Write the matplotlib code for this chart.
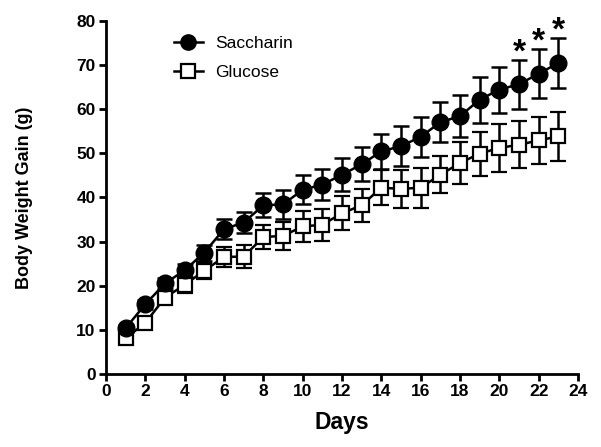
import matplotlib
matplotlib.use("Agg")
import matplotlib.pyplot as plt
from matplotlib.lines import Line2D
import numpy as np

days = list(range(1, 24))
saccharin = [10.4, 15.8, 20.5, 23.5, 27.5, 32.8, 34.3, 38.2, 38.4, 41.7, 42.9, 45.1, 47.5,
             50.4, 51.6, 53.7, 57.0, 58.4, 62.1, 64.4, 65.6, 68.0, 70.4]
saccharin_err = [0.8, 1.0, 1.2, 1.5, 1.8, 2.2, 2.4, 2.7, 3.2, 3.3, 3.6, 3.7, 3.8,
                 4.0, 4.5, 4.5, 4.5, 4.8, 5.2, 5.2, 5.5, 5.6, 5.7]
glucose = [8.1, 11.6, 17.3, 20.2, 23.4, 26.5, 26.6, 31.0, 31.3, 33.4, 33.8, 36.4, 38.2,
           42.2, 41.9, 42.2, 45.1, 47.8, 49.9, 51.2, 51.9, 52.9, 53.8]
glucose_err = [0.8, 1.2, 1.5, 1.8, 2.0, 2.2, 2.5, 2.8, 3.2, 3.4, 3.6, 3.8, 3.7,
               4.0, 4.3, 4.5, 4.2, 4.7, 5.0, 5.4, 5.3, 5.4, 5.5]
sig_days = [21, 22, 23]
xticks = list(range(0, 25, 2))
yticks = list(range(0, 81, 10))

plt.rcParams['font.family'] = ['Liberation Sans', 'DejaVu Sans']

fig = plt.figure(figsize=(6.01, 4.47), dpi=100)
ax = fig.add_axes([0.1764, 0.1633, 0.7853, 0.7904])

lw = 1.8
ax.errorbar(days, glucose, yerr=glucose_err, fmt='s-', color='black', mfc='white',
            mec='black', mew=1.6, ms=10.5, lw=lw, capsize=5.5, capthick=lw, elinewidth=lw,
            zorder=3)
ax.errorbar(days, saccharin, yerr=saccharin_err, fmt='o-', color='black', mfc='black',
            mec='black', ms=12, lw=lw, capsize=5.5, capthick=lw, elinewidth=lw,
            zorder=4)

for d in sig_days:
    i = days.index(d)
    ax.annotate('*', (d, saccharin[i] + saccharin_err[i]), xytext=(0, 5),
                textcoords='offset points', ha='center', va='center',
                fontsize=24, fontweight='bold', color='black', annotation_clip=False)

ax.set_xlim(0, 24)
ax.set_ylim(0, 80)
ax.set_xticks(xticks)
ax.set_yticks(yticks)
for s in ['top', 'right']:
    ax.spines[s].set_visible(False)
for s in ['left', 'bottom']:
    ax.spines[s].set_linewidth(2.0)
ax.tick_params(direction='out', length=5, width=2.0, labelsize=12.5, pad=2.5)
for lab in ax.get_xticklabels() + ax.get_yticklabels():
    lab.set_fontweight('bold')

ax.set_xlabel('Days', fontsize=16.5, fontweight='bold', labelpad=8)
ax.set_ylabel('Body Weight Gain (g)', fontsize=13, fontweight='bold', labelpad=31)

h1 = Line2D([], [], color='black', lw=lw, marker='o', ms=11, mfc='black', mec='black')
h2 = Line2D([], [], color='black', lw=lw, marker='s', ms=10, mfc='white', mec='black', mew=1.6)
ax.legend([h1, h2], ['Saccharin', 'Glucose'], loc='upper left',
          bbox_to_anchor=(0.11, 1.0), frameon=False, fontsize=12.5,
          handlelength=1.7, handletextpad=0.7, labelspacing=0.75)

fig.savefig('out.png', dpi=100)
